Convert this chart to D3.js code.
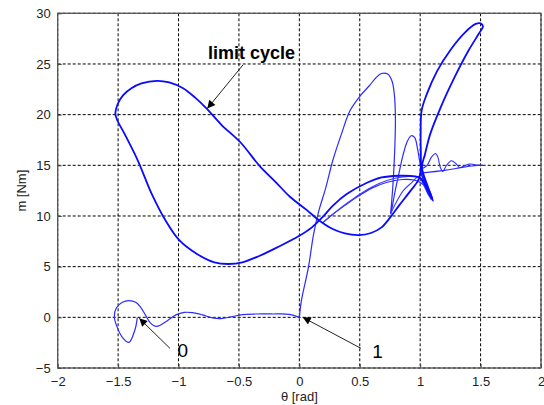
<!DOCTYPE html>
<html>
<head>
<meta charset="utf-8">
<script src="https://cdn.jsdelivr.net/npm/d3@7/dist/d3.min.js"></script>
<style>
  html, body { margin: 0; padding: 0; background: #fff; }
  svg { display: block; font-family: "Liberation Sans", Arial, sans-serif; }
</style>
</head>
<body>
<svg id="chart" width="544" height="405"></svg>
<script>
// Phase-plane trajectory: theta [rad] vs. torque m [Nm]

const xTicks = [-2, -1.5, -1, -0.5, 0, 0.5, 1, 1.5, 2];
const yTicks = [-5, 0, 5, 10, 15, 20, 25, 30];

// start (point 0) -> damped wobble -> switching point 1
const startPath = [
  [-1.341, 0.0], [-1.36, -1.2], [-1.410, -2.47], [-1.465, -1.97], [-1.507, -0.99],
  [-1.531, 0.0], [-1.515, 0.92], [-1.465, 1.48], [-1.410, 1.65], [-1.354, 1.48],
  [-1.313, 0.99], [-1.271, 0.17], [-1.230, -0.59], [-1.188, -0.89], [-1.147, -0.75],
  [-1.092, -0.33], [-1.022, 0.24], [-0.953, 0.49], [-0.885, 0.46], [-0.802, 0.24],
  [-0.719, -0.06], [-0.649, -0.13], [-0.566, 0.04], [-0.470, 0.27], [-0.359, 0.33],
  [-0.221, 0.33], [-0.083, 0.30], [0.0, 0.0]
];

// transient after point 1: climb, overshoot and settle into the cycle
const transientPath = [
  [0.0, 0.0], [0.017, 1.64], [0.075, 4.93], [0.118, 8.22], [0.161, 10.5],
  [0.219, 12.8], [0.276, 15.45], [0.348, 18.08], [0.420, 20.4], [0.507, 21.9],
  [0.579, 22.85], [0.636, 23.67], [0.680, 24.06], [0.731, 24.0], [0.766, 23.34],
  [0.786, 22.0], [0.795, 19.7], [0.789, 16.4], [0.775, 13.15], [0.760, 10.85],
  [0.755, 10.2], [0.760, 10.36], [0.788, 12.17], [0.823, 14.14], [0.857, 15.95],
  [0.890, 17.26], [0.926, 17.92], [0.954, 17.75], [0.976, 16.77], [0.995, 15.45],
  [1.009, 14.63], [1.06, 12.9], [1.10, 11.7], [1.07, 12.6], [1.0, 13.3],
  [0.95, 13.55], [0.85, 13.6], [0.72, 13.3], [0.60, 12.75], [0.48, 11.9],
  [0.36, 10.9], [0.26, 10.0], [0.19, 9.3]
];

// second pass of the upper arc, slightly inside the settled cycle
const settlePath = [
  [0.755, 10.2], [0.80, 11.3], [0.86, 12.5], [0.93, 13.3], [0.99, 13.9],
  [1.03, 13.0], [1.09, 11.6], [1.02, 13.6], [0.92, 13.9], [0.80, 13.75],
  [0.66, 13.2], [0.52, 12.3], [0.40, 11.3], [0.30, 10.4], [0.19, 9.3]
];

// extra passes through the knot near theta = 1
const knotPasses = [
  [1.0, 15.0], [1.04, 13.6], [1.08, 12.3], [1.10, 11.8], [1.05, 13.2], [1.0, 14.4],
  [1.03, 13.4], [1.07, 12.1], [1.09, 11.9], [1.02, 13.9], [1.0, 14.6]
];

// settled limit cycle (closed loop)
const limitCycle = [
  [-1.523, 20.1], [-1.505, 21.0], [-1.460, 21.9], [-1.390, 22.6], [-1.307, 23.08],
  [-1.178, 23.34], [-1.077, 23.18], [-0.962, 22.6], [-0.860, 21.65], [-0.767, 20.6],
  [-0.645, 19.0], [-0.49, 17.3], [-0.326, 14.9], [-0.20, 13.4], [-0.078, 11.9],
  [0.06, 10.6], [0.17, 9.5], [0.276, 8.71], [0.377, 8.28], [0.492, 8.12],
  [0.593, 8.32], [0.680, 8.88], [0.752, 9.86], [0.823, 11.0], [0.910, 12.33],
  [0.982, 13.48], [1.002, 14.3], [1.004, 18.08], [1.012, 20.4], [1.054, 22.0],
  [1.140, 24.3], [1.255, 26.46], [1.37, 28.1], [1.46, 28.95], [1.50, 29.0],
  [1.52, 28.7], [1.486, 28.0], [1.399, 26.3], [1.284, 23.67], [1.169, 20.7],
  [1.083, 18.08], [1.04, 16.1], [1.015, 14.8], [1.06, 13.0], [1.106, 11.5],
  [1.06, 12.6], [1.0, 13.75], [0.92, 13.95], [0.823, 13.97], [0.680, 13.8],
  [0.564, 13.3], [0.392, 12.16], [0.276, 11.0], [0.190, 9.86], [0.104, 8.88],
  [0.0, 8.05], [-0.184, 6.9], [-0.328, 6.08], [-0.472, 5.42], [-0.587, 5.26],
  [-0.703, 5.42], [-0.847, 6.25], [-0.99, 7.56], [-1.106, 9.53], [-1.221, 12.16],
  [-1.336, 15.45], [-1.451, 18.2], [-1.505, 19.4]
];

// branch that leaves the knot and settles at (1.5, 15)
const tailOsc = [
  [1.009, 14.63], [1.056, 14.96], [1.092, 15.78], [1.128, 16.17], [1.147, 15.78],
  [1.167, 14.79], [1.188, 14.4], [1.216, 14.96], [1.258, 15.45], [1.294, 15.19],
  [1.327, 14.79], [1.368, 14.96], [1.41, 15.13], [1.451, 15.06], [1.52, 15.0]
];
const tailDirect = [
  [1.02, 14.25], [1.2, 14.5], [1.35, 14.8], [1.45, 14.95], [1.52, 15.0]
];

// annotations: text anchor and arrow tail -> tip, in data units
const annotations = [
  { text: "limit cycle", at: [-0.757, 25.45], weight: "bold", size: 18, anchor: "start",
    tail: [-0.467, 24.9], tip: [-0.762, 20.6] },
  { text: "0", at: [-0.964, -3.93], weight: "normal", size: 19, anchor: "middle",
    tail: [-1.071, -3.06], tip: [-1.325, -0.1] },
  { text: "1", at: [0.647, -4.01], weight: "normal", size: 19, anchor: "middle",
    tail: [0.51, -3.06], tip: [0.028, 0.0] }
];

const svg = d3.select("#chart");
const plotLeft = 57.7, plotRight = 541, plotTop = 13.3, plotBottom = 368;
const x = d3.scaleLinear().domain([-2, 2]).range([plotLeft, plotRight]);
const y = d3.scaleLinear().domain([-5, 30]).range([plotBottom, plotTop]);

// dotted grid
const grid = svg.append("g");
grid.selectAll("line.gx").data(xTicks).join("line")
  .attr("x1", d => x(d)).attr("x2", d => x(d))
  .attr("y1", plotTop).attr("y2", plotBottom)
  .attr("stroke", "#000").attr("stroke-width", 1).attr("stroke-dasharray", "3,2");
grid.selectAll("line.gy").data(yTicks).join("line")
  .attr("x1", plotLeft).attr("x2", plotRight)
  .attr("y1", d => y(d)).attr("y2", d => y(d))
  .attr("stroke", "#000").attr("stroke-width", 1).attr("stroke-dasharray", "3,2");

// axes
const xAxis = d3.axisBottom(x).tickValues(xTicks).tickFormat(d3.format("")).tickSizeInner(-4).tickSizeOuter(0).tickPadding(9);
const yAxis = d3.axisLeft(y).tickValues(yTicks).tickFormat(d3.format("")).tickSizeInner(-4).tickSizeOuter(0).tickPadding(7);
const gx = svg.append("g").attr("transform", `translate(0,${plotBottom})`).call(xAxis);
const gy = svg.append("g").attr("transform", `translate(${plotLeft},0)`).call(yAxis);
[gx, gy].forEach(g => {
  g.select(".domain").remove();
  g.selectAll(".tick line").attr("stroke", "#444");
  g.selectAll(".tick text").attr("fill", "#222").style("font-size", "13px")
    .style("font-family", '"Liberation Sans", Arial, sans-serif');
});

// frame
svg.append("rect")
  .attr("x", plotLeft).attr("y", plotTop)
  .attr("width", plotRight - plotLeft).attr("height", plotBottom - plotTop)
  .attr("fill", "none").attr("stroke", "#555").attr("stroke-width", 1.3);

// trajectories
const openLine = d3.line().x(d => x(d[0])).y(d => y(d[1])).curve(d3.curveCatmullRom.alpha(0.5));
const closedLine = d3.line().x(d => x(d[0])).y(d => y(d[1])).curve(d3.curveCatmullRomClosed.alpha(0.5));
const traces = [
  { pts: startPath, w: 1.2, c: "#2b2bff", closed: false },
  { pts: transientPath, w: 1.2, c: "#2b2bff", closed: false },
  { pts: settlePath, w: 1.1, c: "#3a3aff", closed: false },
  { pts: knotPasses, w: 1.1, c: "#1a1aff", closed: false },
  { pts: tailDirect, w: 1.1, c: "#2b2bff", closed: false },
  { pts: tailOsc, w: 1.1, c: "#2b2bff", closed: false },
  { pts: limitCycle, w: 1.8, c: "#0a0aff", closed: true }
];
svg.append("g").selectAll("path").data(traces).join("path")
  .attr("d", d => (d.closed ? closedLine : openLine)(d.pts))
  .attr("fill", "none")
  .attr("stroke", d => d.c)
  .attr("stroke-width", d => d.w)
  .attr("stroke-linejoin", "round");

// arrowheads
svg.append("defs").append("marker")
  .attr("id", "arrowhead")
  .attr("viewBox", "0 0 10 10").attr("refX", 10).attr("refY", 5)
  .attr("markerWidth", 11).attr("markerHeight", 8).attr("markerUnits", "userSpaceOnUse")
  .attr("orient", "auto")
  .append("path").attr("d", "M0,0 L10,5 L0,10 Z").attr("fill", "#000");

const ann = svg.append("g");
ann.selectAll("line").data(annotations).join("line")
  .attr("x1", d => x(d.tail[0])).attr("y1", d => y(d.tail[1]))
  .attr("x2", d => x(d.tip[0])).attr("y2", d => y(d.tip[1]))
  .attr("stroke", "#222").attr("stroke-width", 1)
  .attr("marker-end", "url(#arrowhead)");
ann.selectAll("text").data(annotations).join("text")
  .attr("x", d => x(d.at[0])).attr("y", d => y(d.at[1]))
  .attr("text-anchor", d => d.anchor)
  .attr("font-weight", d => d.weight)
  .style("font-size", d => d.size + "px")
  .attr("fill", "#000")
  .text(d => d.text);

// axis titles
svg.append("text")
  .attr("x", (plotLeft + plotRight) / 2).attr("y", 401)
  .attr("text-anchor", "middle").style("font-size", "13px").attr("fill", "#222")
  .text("θ [rad]");
svg.append("text")
  .attr("transform", `translate(26,${(plotTop + plotBottom) / 2}) rotate(-90)`)
  .attr("text-anchor", "middle").style("font-size", "13px").attr("fill", "#222")
  .text("m [Nm]");
</script>
</body>
</html>
